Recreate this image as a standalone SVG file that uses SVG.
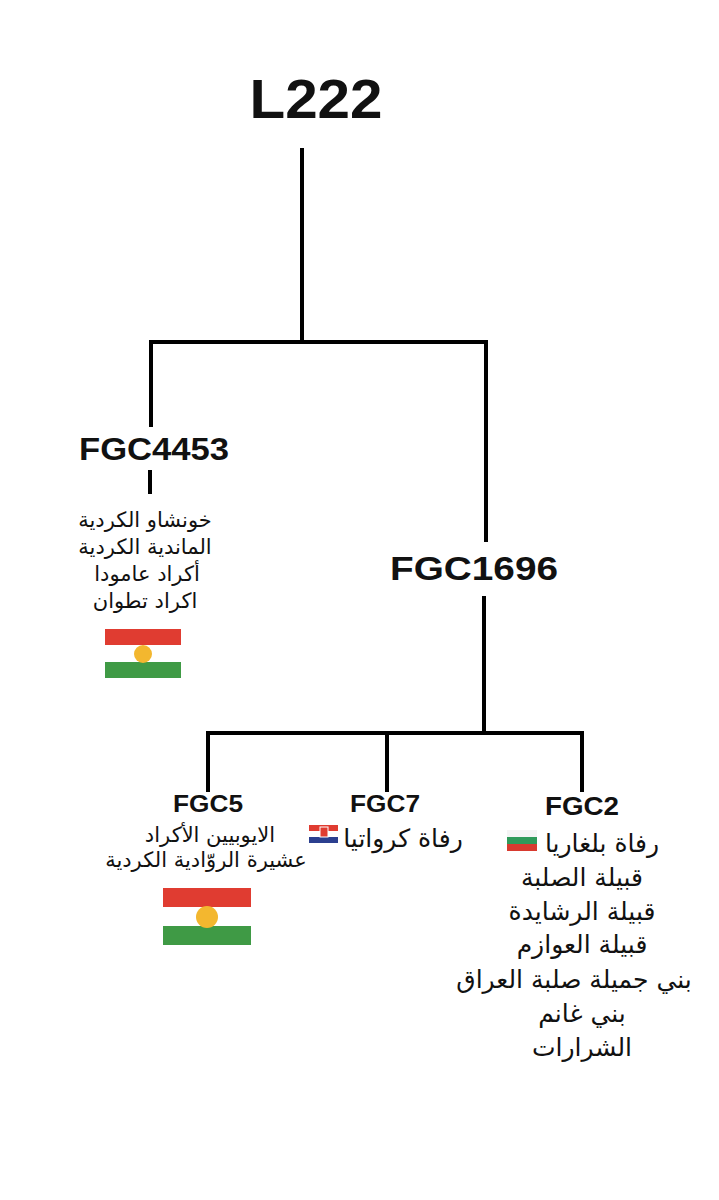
<svg xmlns="http://www.w3.org/2000/svg" width="719" height="1200" viewBox="0 0 719 1200">
<style>
.l{stroke:#000;stroke-width:4;fill:none;stroke-linecap:square}
.h{font-family:"Liberation Sans",Arial,sans-serif;font-weight:bold;fill:#111;text-anchor:middle}
.a{font-family:"DejaVu Sans","Noto Sans",sans-serif;fill:#111;text-anchor:middle;font-size:21px}
.b{font-size:25px}
.r{fill:#e03c31}.g{fill:#3f9a45}.s{fill:#f3b72f}
</style>
<rect width="719" height="1200" fill="#fff"/>
<g id="connectors">
<path class="l" d="M302 150V342M151 342H486M151 342V425M486 342V540M150 472V492M484 598V733M208 733H582M208 733V790M387 733V790M582 733V790"/>
</g>
<g id="L222"><text class="h" x="316" y="118" font-size="56" textLength="133" lengthAdjust="spacingAndGlyphs">L222</text></g>
<g id="FGC4453">
<text class="h" x="154" y="460" font-size="31" textLength="150" lengthAdjust="spacingAndGlyphs">FGC4453</text>
<text class="a" x="145" y="527">خونشاو الكردية</text>
<text class="a" x="145" y="554">الماندية الكردية</text>
<text class="a" x="147" y="581">أكراد عامودا</text>
<text class="a" x="145" y="608">اكراد تطوان</text>
<rect class="r" x="105" y="629" width="76" height="16"/><rect class="g" x="105" y="662" width="76" height="16"/><circle class="s" cx="143" cy="654" r="9"/>
</g>
<g id="FGC1696"><text class="h" x="474" y="580" font-size="33" textLength="168" lengthAdjust="spacingAndGlyphs">FGC1696</text></g>
<g id="FGC5">
<text class="h" x="208" y="812" font-size="23" textLength="70" lengthAdjust="spacingAndGlyphs">FGC5</text>
<text class="a" x="210" y="842">الايوبيين الأكراد</text>
<text class="a" x="206" y="867">عشيرة الروّادية الكردية</text>
<rect class="r" x="163" y="888" width="88" height="19"/><rect class="g" x="163" y="926" width="88" height="19"/><circle class="s" cx="207" cy="917" r="11"/>
</g>
<g id="FGC7">
<text class="h" x="385" y="812" font-size="24" textLength="70" lengthAdjust="spacingAndGlyphs">FGC7</text>
<text class="a b" x="403" y="847">رفاة كرواتيا</text>
<rect x="309" y="825" width="29" height="6" fill="#e03c31"/><rect x="309" y="831" width="29" height="6" fill="#fff"/><rect x="309" y="837" width="29" height="6" fill="#2b3f8f"/>
<rect x="320" y="827" width="8" height="10" fill="#e03c31" stroke="#fff" stroke-width="1"/>
</g>
<g id="FGC2">
<text class="h" x="582" y="815" font-size="25" textLength="74" lengthAdjust="spacingAndGlyphs">FGC2</text>
<text class="a b" x="602" y="852">رفاة بلغاريا</text>
<rect x="507" y="830" width="30" height="7" fill="#f4f4f4"/><rect x="507" y="837" width="30" height="7" fill="#2f9a5a"/><rect x="507" y="844" width="30" height="7" fill="#d83a2f"/>
<text class="a b" x="582" y="886">قبيلة الصلبة</text>
<text class="a b" x="582" y="920">قبيلة الرشايدة</text>
<text class="a b" x="582" y="953">قبيلة العوازم</text>
<text class="a b" x="574" y="988">بني جميلة صلبة العراق</text>
<text class="a b" x="582" y="1022">بني غانم</text>
<text class="a b" x="582" y="1056">الشرارات</text>
</g>
</svg>
